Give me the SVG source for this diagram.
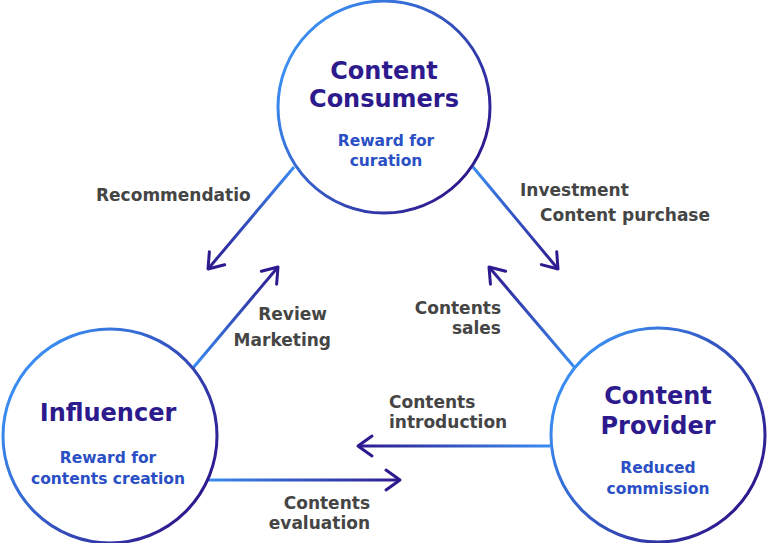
<svg xmlns="http://www.w3.org/2000/svg" width="768" height="543" viewBox="0 0 768 543">
<style>
.node{fill:#fff;stroke-width:3}
.title{font-family:"DejaVu Sans","Liberation Sans",sans-serif;font-weight:700;font-size:24px;fill:#2d1b8e;text-anchor:middle}
.sub{font-family:"DejaVu Sans","Liberation Sans",sans-serif;font-weight:700;font-size:15.5px;fill:#2b4fc4;text-anchor:middle}
.lbl{font-family:"DejaVu Sans","Liberation Sans",sans-serif;font-weight:700;font-size:17px;fill:#454545}
.arrow{fill:none;stroke-width:3;marker-end:url(#head)}
</style>
<defs>
<linearGradient id="cg" x1="0.1" y1="0.25" x2="0.9" y2="0.8">
<stop offset="0" stop-color="#3a8cf0"/>
<stop offset="1" stop-color="#2e1a8f"/>
</linearGradient>
<linearGradient id="a1" gradientUnits="userSpaceOnUse" x1="294" y1="167" x2="208" y2="269"><stop offset="0" stop-color="#3a8cf0"/><stop offset="1" stop-color="#2e1a8f"/></linearGradient>
<linearGradient id="a2" gradientUnits="userSpaceOnUse" x1="193" y1="368" x2="278" y2="267"><stop offset="0" stop-color="#3a8cf0"/><stop offset="1" stop-color="#2e1a8f"/></linearGradient>
<linearGradient id="a3" gradientUnits="userSpaceOnUse" x1="473" y1="167" x2="558" y2="269"><stop offset="0" stop-color="#3a8cf0"/><stop offset="1" stop-color="#2e1a8f"/></linearGradient>
<linearGradient id="a4" gradientUnits="userSpaceOnUse" x1="575" y1="368" x2="489" y2="267"><stop offset="0" stop-color="#3a8cf0"/><stop offset="1" stop-color="#2e1a8f"/></linearGradient>
<linearGradient id="a5" gradientUnits="userSpaceOnUse" x1="550" y1="446" x2="358" y2="446"><stop offset="0" stop-color="#3a8cf0"/><stop offset="1" stop-color="#2e1a8f"/></linearGradient>
<linearGradient id="a6" gradientUnits="userSpaceOnUse" x1="207" y1="480" x2="400" y2="480"><stop offset="0" stop-color="#3a8cf0"/><stop offset="1" stop-color="#2e1a8f"/></linearGradient>
<marker id="head" markerUnits="userSpaceOnUse" viewBox="-20 -14 24 28" refX="0" refY="0" markerWidth="24" markerHeight="28" orient="auto">
<path d="M -14 -10 L 0 0 L -14 10" fill="none" stroke="#2e1a8f" stroke-width="3" stroke-linecap="round" stroke-linejoin="round"/>
</marker>
</defs>
<g id="connectors">
<line class="arrow" x1="294" y1="167" x2="208" y2="269" stroke="url(#a1)"/>
<line class="arrow" x1="193" y1="368" x2="278" y2="267" stroke="url(#a2)"/>
<line class="arrow" x1="473" y1="167" x2="558" y2="269" stroke="url(#a3)"/>
<line class="arrow" x1="575" y1="368" x2="489" y2="267" stroke="url(#a4)"/>
<line class="arrow" x1="550" y1="446" x2="358" y2="446" stroke="url(#a5)"/>
<line class="arrow" x1="207" y1="480" x2="400" y2="480" stroke="url(#a6)"/>
<text class="lbl" x="96" y="201">Recommendatio</text>
<text class="lbl" x="520" y="196">Investment</text>
<text class="lbl" x="540" y="221">Content purchase</text>
<text class="lbl" x="327" y="320" text-anchor="end">Review</text>
<text class="lbl" x="331" y="346" text-anchor="end">Marketing</text>
<text class="lbl" x="501" y="314" text-anchor="end">Contents</text>
<text class="lbl" x="501" y="334" text-anchor="end">sales</text>
<text class="lbl" x="389" y="408">Contents</text>
<text class="lbl" x="389" y="428">introduction</text>
<text class="lbl" x="370" y="509" text-anchor="end">Contents</text>
<text class="lbl" x="370" y="529" text-anchor="end">evaluation</text>
</g>
<g id="consumers">
<circle class="node" cx="384" cy="107" r="106" stroke="url(#cg)"/>
<text class="title" x="384" y="79">Content</text>
<text class="title" x="384" y="107">Consumers</text>
<text class="sub" x="386" y="146">Reward for</text>
<text class="sub" x="386" y="166">curation</text>
</g>
<g id="influencer">
<circle class="node" cx="110" cy="436" r="107" stroke="url(#cg)"/>
<text class="title" x="108" y="421">Influencer</text>
<text class="sub" x="108" y="463">Reward for</text>
<text class="sub" x="108" y="484">contents creation</text>
</g>
<g id="provider">
<circle class="node" cx="658" cy="435" r="107" stroke="url(#cg)"/>
<text class="title" x="658" y="404">Content</text>
<text class="title" x="658" y="434">Provider</text>
<text class="sub" x="658" y="473">Reduced</text>
<text class="sub" x="658" y="494">commission</text>
</g>
</svg>
